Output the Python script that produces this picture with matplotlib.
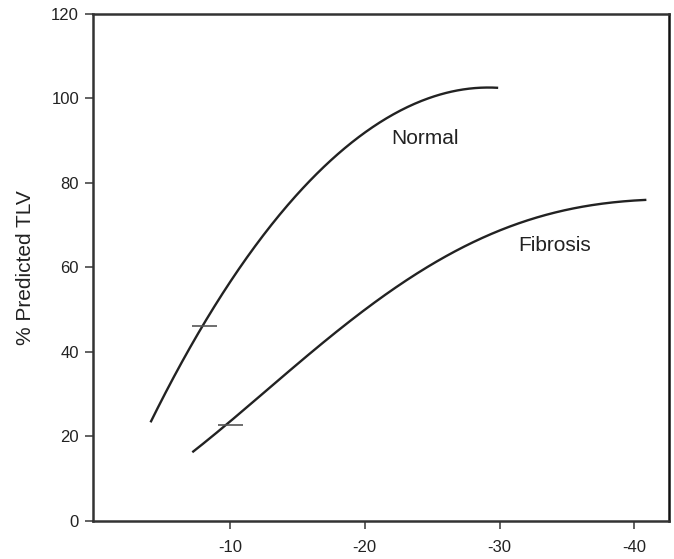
import matplotlib
matplotlib.use("Agg")
import matplotlib.pyplot as plt
import numpy as np

plt.rcParams['font.family'] = ['Liberation Sans', 'DejaVu Sans']

normal_x = [-4.1, -6.3, -8.0, -10.0, -11.2, -12.5, -13.7, -14.7, -15.7, -17.4, -18.2, -19.9, -22.4, -24.9, -27.3, -29.9]
normal_y = [23.5, 36.5, 46.2, 57.0, 63.0, 67.3, 72.0, 76.0, 79.9, 85.4, 87.4, 91.4, 97.3, 100.0, 102.0, 102.6]

fibrosis_x = [-7.2, -9.8, -13.7, -16.2, -18.7, -21.1, -24.1, -26.6, -29.1, -31.5, -34.0, -36.5, -39.0, -40.9]
fibrosis_y = [16.4, 22.7, 33.8, 40.5, 46.6, 52.9, 58.6, 63.7, 67.7, 70.6, 72.8, 74.6, 75.6, 76.0]

marker_x = [-8.1, -10.0]
marker_y = [46.2, 22.7]

x_ticks = [-10, -20, -30, -40]
y_ticks = [0, 20, 40, 60, 80, 100, 120]
labels = ["Normal", "Fibrosis"]
label_x = [-24.5, -34.1]
label_y = [90.6, 65.3]


def smooth(xs, ys, deg=4, n=300):
    xs = np.asarray(xs, float)
    ys = np.asarray(ys, float)
    coef = np.polyfit(xs, ys, deg)
    gx = np.linspace(xs.min(), xs.max(), n)
    return gx, np.polyval(coef, gx)


fig = plt.figure(figsize=(6.74, 5.59), dpi=100)
ax = fig.add_axes([0.138, 0.068, 0.855, 0.907])

for xs, ys in [(normal_x, normal_y), (fibrosis_x, fibrosis_y)]:
    sx, sy = smooth(xs, ys)
    ax.plot(sx, sy, color='#222222', lw=1.7, solid_capstyle='butt')

ax.plot(marker_x, marker_y, linestyle='none', marker='_', markersize=18,
        markeredgewidth=1.2, color='#555555')

for t, x, y in zip(labels, label_x, label_y):
    ax.text(x, y, t, ha='center', va='center', fontsize=15, color='#222222')

ax.set_xlim(0.17, -42.6)
ax.set_ylim(0, 120)
ax.set_xticks(x_ticks)
ax.set_yticks(y_ticks)
ax.set_xticklabels([str(v) for v in x_ticks])
ax.tick_params(axis='both', direction='out', length=6, width=1.3, color='#555555',
               labelsize=12, labelcolor='#222222', pad=4)
ax.tick_params(axis='x', pad=8)
ax.set_ylabel('% Predicted TLV', fontsize=15, color='#222222', labelpad=12)

for side in ['left', 'bottom', 'top', 'right']:
    ax.spines[side].set_linewidth(1.8)
    ax.spines[side].set_color('#333333')
ax.spines['right'].set_color('#111111')

fig.savefig('out.png', dpi=100)
